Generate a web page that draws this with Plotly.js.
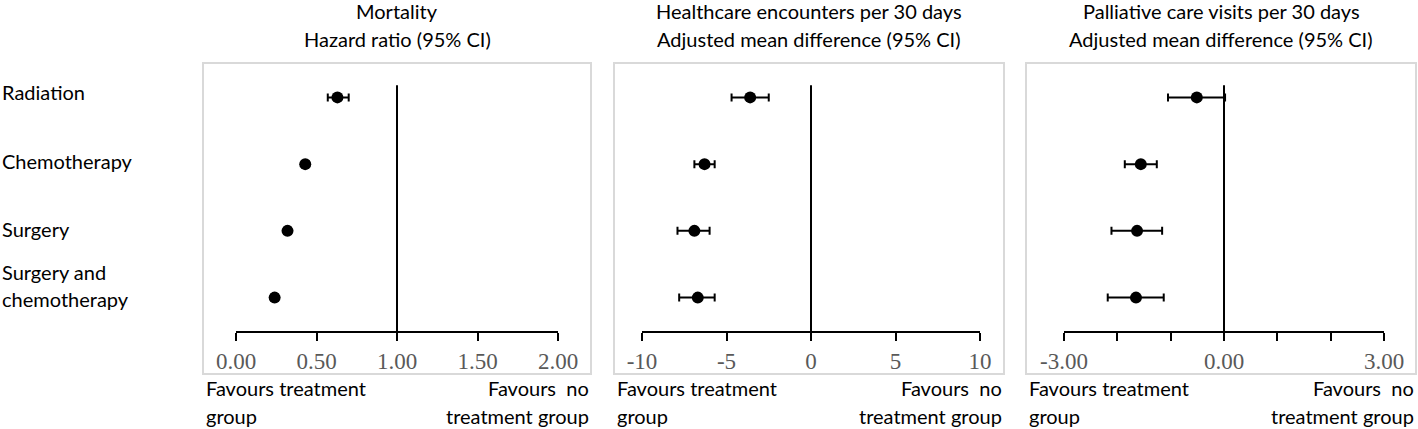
<!DOCTYPE html>
<html>
<head>
<meta charset="utf-8">
<script src="https://cdn.plot.ly/plotly-3.0.1.min.js"></script>
<style>
  body { margin: 0; background: #fff; }
  #chart { width: 1418px; height: 429px; }
</style>
</head>
<body>
<div id="chart"></div>
<script>
// data, top row first
var groups = ['Radiation', 'Chemotherapy', 'Surgery', 'Surgery and', 'chemotherapy'];
var rowPos = [4, 3, 2, 1];

var mortHR = [0.63, 0.43, 0.32, 0.24];
var mortLo = [0.57, 0.41, 0.30, 0.22];
var mortHi = [0.70, 0.45, 0.34, 0.26];

var encDiff = [-3.6, -6.3, -6.9, -6.7];
var encLo = [-4.7, -6.9, -7.9, -7.8];
var encHi = [-2.5, -5.7, -6.0, -5.7];

var palDiff = [-0.51, -1.56, -1.63, -1.65];
var palLo = [-1.05, -1.86, -2.11, -2.18];
var palHi = [0.02, -1.26, -1.16, -1.13];

var mortTicks = [0, 0.5, 1, 1.5, 2];
var encTicks = [-10, -5, 0, 5, 10];
var palTicks = [-3, -2, -1, 0, 1, 2, 3];
var palTickText = ['-3.00', '', '', '0.00', '', '', '3.00'];

var W = 1418, H = 429;
function px(x) { return x / W; }
function py(y) { return 1 - y / H; }

var labelFont = { family: 'Lato, "Noto Sans", sans-serif', size: 20, color: '#000' };

function makeTrace(est, lo, hi, xa, ya) {
  return {
    x: est, y: rowPos, xaxis: xa, yaxis: ya,
    type: 'scatter', mode: 'markers',
    marker: { color: '#000', size: 12 },
    error_x: {
      type: 'data', symmetric: false,
      array: est.map(function (v, i) { return hi[i] - v; }),
      arrayminus: est.map(function (v, i) { return v - lo[i]; }),
      color: '#000', thickness: 2, width: 4
    },
    showlegend: false, hoverinfo: 'skip'
  };
}

var data = [
  makeTrace(mortHR, mortLo, mortHi, 'x', 'y'),
  makeTrace(encDiff, encLo, encHi, 'x2', 'y2'),
  makeTrace(palDiff, palLo, palHi, 'x3', 'y3')
];

function xAxis(dom, range, vals, text, anchor) {
  return {
    domain: dom, range: range, anchor: anchor,
    tickvals: vals, ticktext: text,
    showgrid: false, zeroline: false,
    showline: true, linecolor: '#000', linewidth: 2,
    ticks: 'outside', ticklen: 8, tickwidth: 2, tickcolor: '#000',
    tickfont: { family: '"Liberation Serif", "Times New Roman", serif', size: 23, color: '#595959' },
    fixedrange: true
  };
}
function yAxis(anchor) {
  return {
    domain: [py(331), py(64)], range: [0.5, 4.5], anchor: anchor,
    visible: false, fixedrange: true
  };
}

var xa1 = xAxis([px(236), px(558)], [0, 2], mortTicks, mortTicks.map(function (v) { return v.toFixed(2); }), 'y');
var xa2 = xAxis([px(642), px(980)], [-10, 10], encTicks, encTicks.map(String), 'y2');
var xa3 = xAxis([px(1064), px(1384)], [-3, 3], palTicks, palTickText, 'y3');

// grey frames round each panel and the no-effect lines
var frames = [[203, 591], [614, 1004], [1026, 1416]];
var shapes = frames.map(function (f) {
  return {
    type: 'rect', xref: 'paper', yref: 'paper',
    x0: px(f[0]), x1: px(f[1]), y0: py(374), y1: py(63),
    line: { color: '#d9d9d9', width: 2 }, layer: 'below'
  };
});
[['x', 'y', 1], ['x2', 'y2', 0], ['x3', 'y3', 0]].forEach(function (r) {
  shapes.push({
    type: 'line', xref: r[0], yref: r[1],
    x0: r[2], x1: r[2], y0: 0.5, y1: 4.18,
    line: { color: '#000', width: 2 }
  });
});

var annotations = [];
function note(text, x, y, anchor) {
  annotations.push({
    text: text, xref: 'paper', yref: 'paper', x: px(x), y: py(y),
    xanchor: anchor, yanchor: 'middle', showarrow: false,
    font: labelFont, align: anchor === 'right' ? 'right' : 'left'
  });
}

// panel titles
var titles = [
  ['Mortality', 'Hazard ratio (95% CI)', 397],
  ['Healthcare encounters per 30 days', 'Adjusted mean difference (95% CI)', 809],
  ['Palliative care visits per 30 days', 'Adjusted mean difference (95% CI)', 1221]
];
titles.forEach(function (t) {
  note(t[0], t[2], 11, 'center');
  note(t[1], t[2], 39, 'center');
});

// row labels
var labelY = [92, 161, 229, 272, 299];
groups.forEach(function (g, i) { note(g, 0, labelY[i], 'left'); });

// direction labels under each panel
frames.forEach(function (f) {
  note('Favours treatment', f[0] + 1, 388, 'left');
  note('group', f[0] + 1, 416, 'left');
  note('Favours&nbsp;&nbsp;no', f[1], 388, 'right');
  note('treatment group', f[1], 416, 'right');
});

var layout = {
  width: W, height: H,
  margin: { l: 0, r: 0, t: 0, b: 0 },
  paper_bgcolor: '#fff', plot_bgcolor: 'rgba(0,0,0,0)',
  xaxis: xa1, xaxis2: xa2, xaxis3: xa3,
  yaxis: yAxis('x'), yaxis2: yAxis('x2'), yaxis3: yAxis('x3'),
  shapes: shapes, annotations: annotations,
  hovermode: false
};

Plotly.newPlot('chart', data, layout, { displayModeBar: false, staticPlot: true });
</script>
</body>
</html>
